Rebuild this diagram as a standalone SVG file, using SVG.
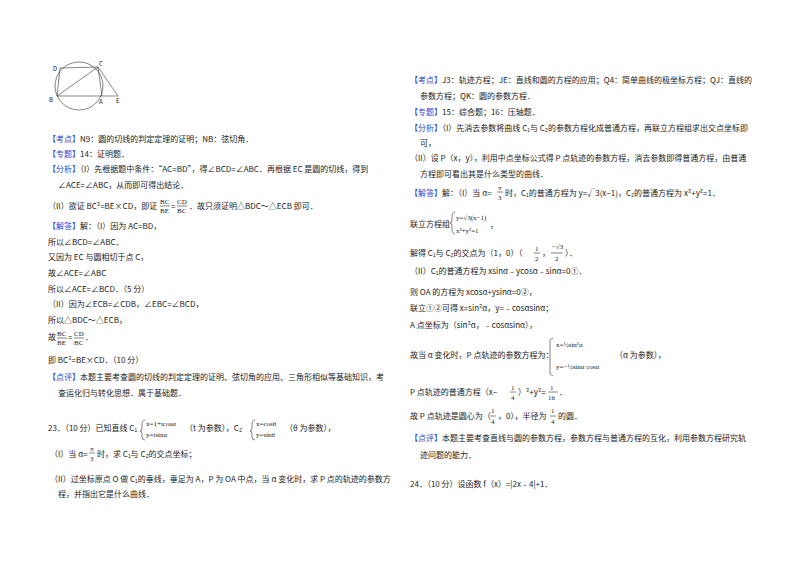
<svg xmlns="http://www.w3.org/2000/svg" width="800" height="565" viewBox="0 0 800 565">
<style>
text{font-family:"Noto Sans CJK SC","Liberation Sans",sans-serif;font-size:8px;fill:#222}
.b{fill:#2b3fd6}
.s{font-size:6px}
.m{font-family:"Liberation Serif",serif;font-size:7px}
.f{stroke:#333;stroke-width:0.6;fill:none}
</style>
<rect width="800" height="565" fill="#fff"/>
<g id="figure">
<circle cx="79" cy="86" r="24" class="f"/>
<path class="f" d="M60,68 L98,67 L102,96 L57,96 Z M57,96 L98,67 M98,67 L118,96 M102,96 L118,96"/>
<text x="53" y="71" class="s">D</text><text x="99" y="66" class="s">C</text>
<text x="49" y="102" class="s">B</text><text x="99" y="104" class="s">A</text><text x="116" y="103" class="s">E</text>
</g>
<g id="left">
<text x="48" y="142"><tspan class="b">【考点】</tspan>N9：圆的切线的判定定理的证明；NB：弦切角．</text>
<text x="48" y="157"><tspan class="b">【专题】</tspan>14：证明题．</text>
<text x="48" y="172"><tspan class="b">【分析】</tspan>（I）先根据题中条件：“AC=BD”，得∠BCD=∠ABC．再根据 EC 是圆的切线，得到</text>
<text x="58" y="188">∠ACE=∠ABC，从而即可得出结论．</text>
<text x="48" y="209">（II）欲证 BC²=BE×CD，即证</text>
<text x="160" y="204" class="m">BC</text><line x1="160" y1="206" x2="170" y2="206" class="f"/><text x="160" y="213" class="m">BE</text>
<text x="171" y="209">=</text>
<text x="177" y="204" class="m">CD</text><line x1="177" y1="206" x2="187" y2="206" class="f"/><text x="177" y="213" class="m">BC</text>
<text x="189" y="209">．故只须证明△BDC～△ECB 即可．</text>
<text x="48" y="229"><tspan class="b">【解答】</tspan>解：（I）因为 AC=BD，</text>
<text x="48" y="245">所以∠BCD=∠ABC．</text>
<text x="48" y="260">又因为 EC 与圆相切于点 C，</text>
<text x="48" y="276">故∠ACE=∠ABC</text>
<text x="48" y="292">所以∠ACE=∠BCD．（5 分）</text>
<text x="48" y="307">（II）因为∠ECB=∠CDB，∠EBC=∠BCD，</text>
<text x="48" y="323">所以△BDC～△ECB，</text>
<text x="48" y="340">故</text>
<text x="57" y="336" class="m">BC</text><line x1="57" y1="338" x2="67" y2="338" class="f"/><text x="57" y="345" class="m">BE</text>
<text x="68" y="340">=</text>
<text x="74" y="336" class="m">CD</text><line x1="74" y1="338" x2="84" y2="338" class="f"/><text x="74" y="345" class="m">BC</text><text x="85" y="340">．</text>
<text x="48" y="363">即 BC²=BE×CD．（10 分）</text>
<text x="48" y="380"><tspan class="b">【点评】</tspan>本题主要考查圆的切线的判定定理的证明、弦切角的应用、三角形相似等基础知识，考</text>
<text x="58" y="396">查运化归与转化思想．属于基础题．</text>
<text x="48" y="431">23．（10 分）已知直线 C₁</text>
<text x="146" y="426" class="m">x=1+tcosα</text><text x="146" y="437" class="m">y=tsinα</text>
<path class="f" d="M145,420 Q142,420 142,425 L142,428 Q142,431 140,431 Q142,431 142,434 L142,437 Q142,440 145,440"/>
<text x="185" y="431">（t 为参数），C₂</text>
<text x="256" y="426" class="m">x=cosθ</text><text x="256" y="437" class="m">y=sinθ</text>
<path class="f" d="M255,420 Q252,420 252,425 L252,428 Q252,431 250,431 Q252,431 252,434 L252,437 Q252,440 255,440"/>
<text x="285" y="431">（θ 为参数），</text>
<text x="50" y="457">（I）当 α=</text><text x="90" y="451" class="m">π</text><line x1="89" y1="453" x2="95" y2="453" class="f"/><text x="90" y="461" class="m">3</text>
<text x="97" y="457">时，求 C₁与 C₂的交点坐标；</text>
<text x="50" y="482">（II）过坐标原点 O 做 C₁的垂线，垂足为 A，P 为 OA 中点，当 α 变化时，求 P 点的轨迹的参数方</text>
<text x="58" y="497">程，并指出它是什么曲线．</text>
</g>
<g id="right">
<text x="410" y="83"><tspan class="b">【考点】</tspan>J3：轨迹方程；JE：直线和圆的方程的应用；Q4：简单曲线的极坐标方程；QJ：直线的</text>
<text x="420" y="99">参数方程；QK：圆的参数方程．</text>
<text x="410" y="115"><tspan class="b">【专题】</tspan>15：综合题；16：压轴题．</text>
<text x="410" y="131"><tspan class="b">【分析】</tspan>（I）先消去参数将曲线 C₁与 C₂的参数方程化成普通方程，再联立方程组求出交点坐标即</text>
<text x="420" y="146">可，</text>
<text x="410" y="161">（II）设 P（x，y），利用中点坐标公式得 P 点轨迹的参数方程，消去参数即得普通方程，由普通</text>
<text x="420" y="177">方程即可看出其是什么类型的曲线．</text>
<text x="410" y="196"><tspan class="b">【解答】</tspan>解：（I）当 α=</text><text x="498" y="190" class="m">π</text><line x1="497" y1="192" x2="503" y2="192" class="f"/><text x="498" y="200" class="m">3</text>
<text x="505" y="196">时，C₁的普通方程为 y=√3(x−1)，C₂的普通方程为 x²+y²=1．</text>
<text x="410" y="227">联立方程组</text>
<path class="f" d="M455,212 Q452,212 452,217 L452,220 Q452,223 450,223 Q452,223 452,226 L452,229 Q452,234 455,234"/>
<text x="456" y="220" class="m">y=√3(x−1)</text><text x="456" y="233" class="m">x²+y²=1</text><text x="490" y="228">，</text>
<text x="410" y="256">解得 C₁与 C₂的交点为（1，0）（</text>
<text x="535" y="251" class="m">1</text><line x1="534" y1="253" x2="540" y2="253" class="f"/><text x="535" y="261" class="m">2</text>
<text x="542" y="256">，</text><text x="552" y="249" class="m">−√3</text><line x1="551" y1="253" x2="563" y2="253" class="f"/><text x="555" y="261" class="m">2</text><text x="565" y="256">）．</text>
<text x="410" y="274">（II）C₁的普通方程为 xsinα﹣ycosα﹣sinα=0①．</text>
<text x="410" y="295">则 OA 的方程为 xcosα+ysinα=0②，</text>
<text x="410" y="311">联立①②可得 x=sin²α，y=﹣cosαsinα；</text>
<text x="410" y="328">A 点坐标为（sin²α，﹣cosαsinα），</text>
<text x="410" y="358">故当 α 变化时，P 点轨迹的参数方程为：</text>
<path class="f" d="M553,338 L550,340 L550,374 L553,376"/>
<text x="556" y="347" class="m">x=½sin²α</text><text x="556" y="369" class="m">y=−½sinα cosα</text>
<text x="615" y="358">（α 为参数），</text>
<text x="410" y="395">P 点轨迹的普通方程（x−</text>
<text x="511" y="390" class="m">1</text><line x1="510" y1="392" x2="516" y2="392" class="f"/><text x="511" y="400" class="m">4</text>
<text x="518" y="395">）²+y²=</text><text x="550" y="390" class="m">1</text><line x1="548" y1="392" x2="558" y2="392" class="f"/><text x="548" y="400" class="m">16</text><text x="559" y="395">．</text>
<text x="410" y="419">故 P 点轨迹是圆心为（</text>
<text x="491" y="413" class="m">1</text><line x1="490" y1="416" x2="496" y2="416" class="f"/><text x="491" y="424" class="m">4</text>
<text x="498" y="419">，0），半径为</text><text x="551" y="413" class="m">1</text><line x1="550" y1="416" x2="556" y2="416" class="f"/><text x="551" y="424" class="m">4</text><text x="558" y="419">的圆．</text>
<text x="410" y="441"><tspan class="b">【点评】</tspan>本题主要考查直线与圆的参数方程，参数方程与普通方程的互化，利用参数方程研究轨</text>
<text x="420" y="458">迹问题的能力．</text>
<text x="410" y="487">24．（10 分）设函数 f（x）=|2x﹣4|+1．</text>
</g>
</svg>
